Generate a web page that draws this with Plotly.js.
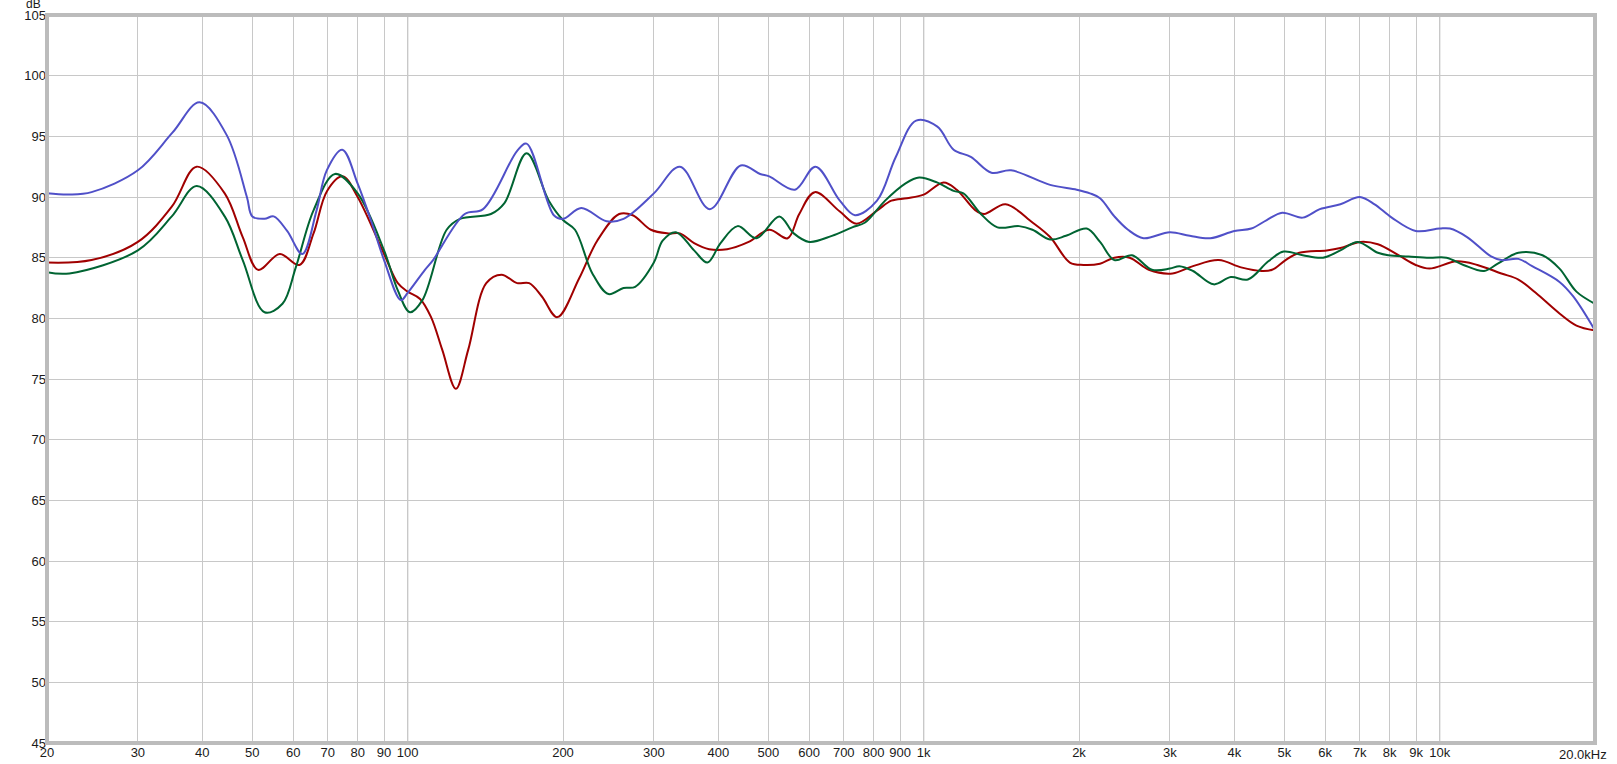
<!DOCTYPE html>
<html>
<head>
<meta charset="utf-8">
<script src="https://cdn.plot.ly/plotly-3.0.1.min.js"></script>
<style>
  html, body { margin: 0; padding: 0; background: #ffffff; }
  #chart { width: 1617px; height: 764px; }
</style>
</head>
<body>
<div id="chart"></div>
<script>
// ---- data ----
const blueFreq = [20, 22.1, 24.4, 30, 35, 39.5, 44.6, 48.8, 50, 52.8, 55, 58.4, 62.5, 66.6, 69.7, 74.7, 80, 85, 90, 97, 100, 108, 112, 129, 140, 163, 170, 192, 200, 217, 243, 262, 300, 337, 385, 442, 482, 502, 563, 617, 688, 736, 812, 883, 967, 1063, 1143, 1234, 1353, 1477, 1758, 1980, 2100, 2197, 2342, 2489, 2667, 3000, 3279, 3593, 4000, 4315, 4623, 4953, 5428, 5857, 6421, 7000, 7480, 8074, 8985, 10000, 10470, 11300, 12580, 13170, 14210, 15110, 17070, 18150, 20000];
const blueDb   = [90.3, 90.2, 90.4, 92.2, 95.3, 97.8, 95.1, 90.0, 88.4, 88.2, 88.4, 87.2, 85.3, 88.9, 92.2, 93.9, 91.1, 88.0, 84.8, 81.5, 82.1, 84.0, 84.8, 88.6, 89.0, 93.8, 94.4, 88.5, 88.2, 89.1, 88.0, 88.2, 90.3, 92.5, 89.0, 92.6, 91.9, 91.7, 90.6, 92.5, 89.7, 88.5, 89.7, 93.3, 96.3, 95.8, 93.9, 93.3, 92.0, 92.2, 91.0, 90.6, 90.3, 89.9, 88.4, 87.3, 86.6, 87.1, 86.8, 86.6, 87.2, 87.4, 88.1, 88.7, 88.3, 89.0, 89.4, 90.0, 89.4, 88.3, 87.2, 87.4, 87.4, 86.7, 85.1, 84.8, 84.9, 84.3, 83.0, 81.8, 79.0];

const redFreq = [20, 24.4, 30, 34.9, 39, 44.2, 47.9, 51.3, 56.5, 61.7, 65.7, 69.8, 74.8, 80, 90, 95.7, 100, 105.7, 111, 116.7, 124, 131, 142, 152, 163, 172, 182, 195, 215, 233, 257, 273, 296, 320, 337, 359, 384, 416, 458, 502, 545, 574, 615, 688, 741, 813, 866, 928, 1000, 1093, 1159, 1260, 1310, 1441, 1625, 1758, 1920, 2040, 2196, 2342, 2507, 2731, 3036, 3326, 3730, 4122, 4518, 4733, 5028, 5345, 6040, 6421, 7030, 7590, 8320, 8985, 9553, 10790, 11830, 13170, 14210, 15350, 17070, 18410, 20000];
const redDb   = [84.6, 84.8, 86.3, 89.2, 92.5, 90.3, 86.7, 84.0, 85.3, 84.4, 87.0, 90.5, 91.7, 90.0, 85.3, 82.9, 82.2, 81.6, 80.1, 77.4, 74.2, 77.4, 82.9, 83.6, 82.9, 82.9, 81.8, 80.1, 83.3, 86.4, 88.6, 88.5, 87.3, 87.0, 87.0, 86.2, 85.7, 85.7, 86.3, 87.3, 86.6, 88.6, 90.4, 88.8, 87.8, 88.9, 89.7, 89.9, 90.2, 91.2, 90.6, 88.9, 88.6, 89.4, 87.9, 86.7, 84.6, 84.4, 84.5, 85.0, 85.0, 84.0, 83.7, 84.3, 84.8, 84.2, 83.9, 84.0, 84.8, 85.4, 85.6, 85.8, 86.3, 86.1, 85.2, 84.4, 84.1, 84.7, 84.4, 83.7, 83.2, 82.1, 80.4, 79.4, 79.0];

const greenFreq = [20, 22.1, 30, 34.9, 39, 44.2, 47.9, 52.8, 57.2, 60.7, 65.7, 72.3, 80, 90, 95.7, 101, 106.8, 119, 126.3, 145, 154, 170, 187.7, 200, 211, 228, 245, 262, 276, 300, 312, 331, 359, 381, 404, 436, 474, 525, 560, 600, 664, 727, 770, 842, 921, 980, 1061, 1143, 1194, 1291, 1390, 1531, 1625, 1758, 1887, 2070, 2197, 2342, 2534, 2769, 3000, 3131, 3326, 3648, 3938, 4249, 4655, 4985, 5428, 5942, 6421, 6938, 7590, 7963, 8707, 9553, 10310, 11120, 12190, 12960, 14210, 15820, 17070, 18410, 20000];
const greenDb   = [83.8, 83.7, 85.6, 88.4, 90.9, 88.4, 84.8, 80.5, 81.2, 84.2, 88.9, 91.9, 90.3, 85.6, 82.3, 80.5, 81.5, 87.3, 88.2, 88.6, 89.5, 93.6, 89.7, 88.1, 87.3, 83.7, 82.0, 82.5, 82.6, 84.6, 86.4, 87.1, 85.6, 84.6, 86.2, 87.6, 86.6, 88.4, 87.0, 86.3, 86.8, 87.5, 87.9, 89.7, 91.1, 91.6, 91.2, 90.5, 90.3, 88.6, 87.5, 87.6, 87.3, 86.5, 86.8, 87.4, 86.3, 84.8, 85.2, 84.0, 84.1, 84.3, 83.9, 82.8, 83.4, 83.2, 84.7, 85.5, 85.2, 85.0, 85.6, 86.3, 85.4, 85.2, 85.1, 85.0, 85.0, 84.4, 83.9, 84.5, 85.4, 85.2, 84.1, 82.2, 81.2];

const xTickVals  = [20, 30, 40, 50, 60, 70, 80, 90, 100, 200, 300, 400, 500, 600, 700, 800, 900, 1000, 2000, 3000, 4000, 5000, 6000, 7000, 8000, 9000, 10000, 20000];
const xTickText  = ['20', '30', '40', '50', '60', '70', '80', '90', '100', '200', '300', '400', '500', '600', '700', '800', '900', '1k', '2k', '3k', '4k', '5k', '6k', '7k', '8k', '9k', '10k', ''];
const endLabel   = '20.0kHz';
const decadeLines = [100, 1000, 10000];
const yUnit = 'dB';

// ---- chart ----
function series(x, y, color) {
  return { x: x, y: y, type: 'scatter', mode: 'lines',
           line: { color: color, width: 2, shape: 'spline', smoothing: 1 },
           hoverinfo: 'skip' };
}
const traces = [
  series(redFreq, redDb, '#a00000'),
  series(greenFreq, greenDb, '#006432'),
  series(blueFreq, blueDb, '#5050c8')
];

const shapes = decadeLines.map(v => ({
  type: 'line', xref: 'x', yref: 'paper', x0: v, x1: v, y0: 0, y1: 1,
  line: { color: '#808080', width: 1 }, layer: 'below'
}));
shapes.push({
  type: 'rect', xref: 'paper', yref: 'paper', x0: 0, x1: 1, y0: 0, y1: 1,
  line: { color: '#bcbcbc', width: 4 }, layer: 'above'
});

const font = { family: '"Liberation Sans", Arial, sans-serif', size: 13, color: '#1a1a1a' };

const layout = {
  width: 1617, height: 764,
  margin: { l: 47, r: 22, t: 15, b: 21, pad: 0 },
  paper_bgcolor: '#ffffff', plot_bgcolor: '#ffffff',
  showlegend: false, hovermode: false,
  font: font,
  xaxis: {
    type: 'log', range: [Math.log10(20), Math.log10(20000)],
    tickmode: 'array', tickvals: xTickVals, ticktext: xTickText,
    showgrid: true, gridcolor: '#c8c8c8', gridwidth: 1,
    zeroline: false, showline: false, ticks: '', ticklen: 0,
    tickfont: font, tickangle: 0, automargin: false
  },
  yaxis: {
    range: [45, 105], tick0: 45, dtick: 5,
    showgrid: true, gridcolor: '#c8c8c8', gridwidth: 1,
    zeroline: false, showline: false, ticks: '', ticklen: 0,
    tickfont: font, automargin: false
  },
  shapes: shapes,
  annotations: [
    { text: yUnit, xref: 'paper', yref: 'paper', x: 0, y: 1,
      xanchor: 'right', yanchor: 'bottom', xshift: -4, yshift: 2,
      showarrow: false, font: { family: font.family, size: 12, color: font.color } },
    { text: endLabel, xref: 'paper', yref: 'paper', x: 1, y: 0,
      xanchor: 'right', yanchor: 'top', xshift: 14, yshift: -2,
      showarrow: false, font: font }
  ]
};

Plotly.newPlot('chart', traces, layout, { staticPlot: true, displayModeBar: false });
</script>
</body>
</html>
